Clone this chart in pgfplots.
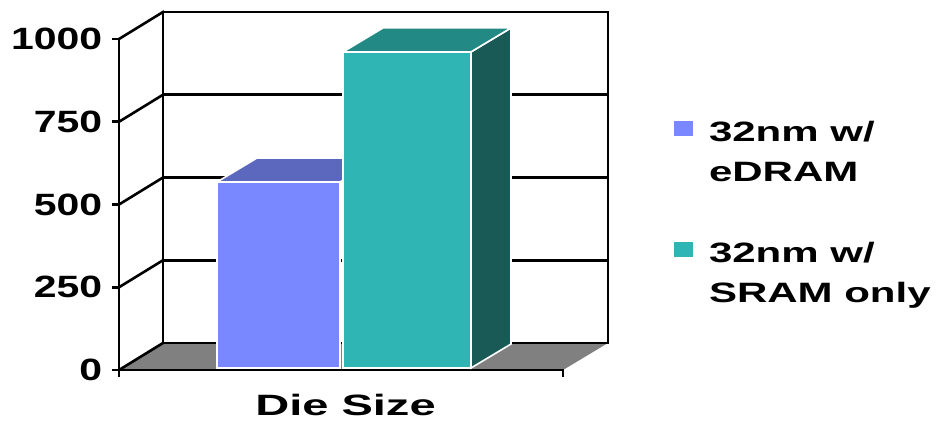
\documentclass[border=0pt]{standalone}
\usepackage{pgfplots}
\pgfplotsset{compat=1.18}
\usepackage{fontspec}
\setmainfont{Liberation Sans}
\newfontfamily\tickfont{Liberation Sans}[FakeStretch=1.33]
\newfontfamily\legfont{Liberation Sans}[FakeStretch=1.5]
\newfontfamily\labfont{Liberation Sans}[FakeStretch=1.6]
\definecolor{bluefront}{RGB}{122,136,255}
\definecolor{bluetop}{RGB}{92,103,190}
\definecolor{tealfront}{RGB}{47,181,180}
\definecolor{tealtop}{RGB}{35,137,132}
\definecolor{tealside}{RGB}{25,90,87}
\definecolor{floorgray}{RGB}{128,128,128}
\begin{document}
\begin{tikzpicture}[x=1pt,y=1pt]
\useasboundingbox (0,0) rectangle (468,210);
\begin{axis}[
  at={(59.5pt,25pt)}, anchor=south west,
  scale only axis, width=244.5pt, height=179pt,
  xmin=119, xmax=608, ymin=0, ymax=1081.6,
  clip=false,
  axis line style={draw=none},
  ytick={0,250,500,750,1000}, yticklabels={0,250,500,750,1000},
  tick pos=left,
  tick align=outside, major tick length=3.5pt,
  ytick style={line width=1.3pt, black},
  xtick={345.5}, xticklabels={Die Size}, xtick style={draw=none},
  yticklabel style={font=\tickfont\bfseries\fontsize{15.4}{16}\selectfont, xshift=-1.4pt},
  xticklabel style={font=\labfont\bfseries\fontsize{14.7}{16}\selectfont, anchor=base, yshift=-19pt},
  legend style={draw=none, fill=none, at={(1.1350,0.6954)}, anchor=north west,
    inner sep=0pt, outer sep=0pt, nodes={inner sep=0pt}, column sep=8pt, row sep=48.5pt,
    font=\legfont\bfseries\fontsize{14}{20}\selectfont},
  legend cell align=left,
  legend image code/.code={\fill[#1,draw=none] (0pt,-1.5pt) rectangle (9.5pt,6pt);},
  blk/.style={black, line width=1.3pt, forget plot, line cap=rect, line join=miter},
]
% floor
\addplot[fill=floorgray, draw=none, forget plot] coordinates {(119,0) (563,0) (608,81.6) (163,81.6)} -- cycle;
% back wall and gridlines
\addplot[blk] coordinates {(163,81.6) (163,1081.6) (608,1081.6) (608,81.6) (163,81.6)};
\addplot[blk] coordinates {(163,331.6) (608,331.6)};
\addplot[blk] coordinates {(163,581.6) (608,581.6)};
\addplot[blk] coordinates {(163,831.6) (608,831.6)};
% side diagonals
\addplot[blk] coordinates {(119,0) (163,81.6)};
\addplot[blk] coordinates {(119,250) (163,331.6)};
\addplot[blk] coordinates {(119,500) (163,581.6)};
\addplot[blk] coordinates {(119,750) (163,831.6)};
\addplot[blk] coordinates {(119,1000) (163,1081.6)};
% front axes
\addplot[blk] coordinates {(119,-18) (119,1000)};
\addplot[blk] coordinates {(119,0) (563,0) (563,-18)};
% bar 1: 32nm w/ eDRAM (value 562)
\addplot[fill=bluefront, draw=white, line width=0.8pt] coordinates {(217,6) (340,6) (340,568) (217,568)} -- cycle;
\addlegendentry{\parbox[t]{120pt}{32nm w/\\eDRAM}}
\addplot[fill=bluetop, draw=white, line width=0.8pt, forget plot] coordinates {(217,568) (340,568) (380,640.5) (257,640.5)} -- cycle;
% bar 2: 32nm w/ SRAM only (value 955)
\addplot[fill=tealside, draw=white, line width=0.8pt, forget plot] coordinates {(471,6) (511,78.5) (511,1033.5) (471,961)} -- cycle;
\addplot[fill=tealtop, draw=white, line width=0.8pt, forget plot] coordinates {(343,961) (471,961) (511,1033.5) (383,1033.5)} -- cycle;
\addplot[fill=tealfront, draw=white, line width=0.8pt] coordinates {(343,6) (471,6) (471,961) (343,961)} -- cycle;
\addlegendentry{\parbox[t]{120pt}{32nm w/\\SRAM only}}
\end{axis}
\end{tikzpicture}
\end{document}
